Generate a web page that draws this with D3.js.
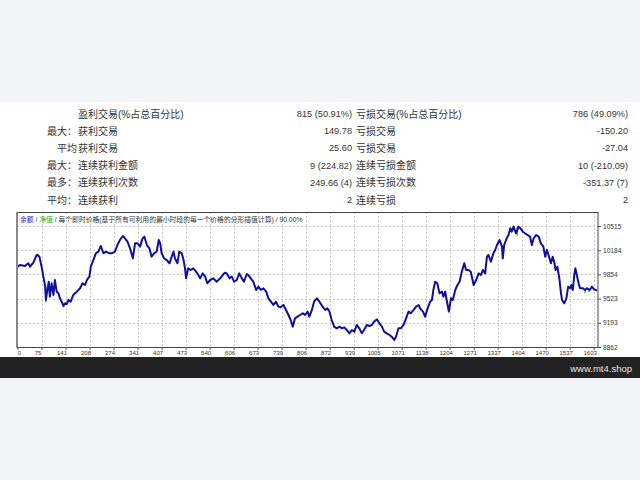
<!DOCTYPE html>
<html><head><meta charset="utf-8">
<script src="https://cdn.jsdelivr.net/npm/d3@7"></script>
<style>body{margin:0;background:#f3f4f6;}svg{display:block}</style>
</head><body><svg id="c" width="640" height="480"></svg>
<script>
// ---- data ----
const balanceIdx = [0,7,21,30,35,44,52,55,61,67,72,77,79,83,87,90,95,100,104,109,114,118,123,128,132,137,142,148,155,165,174,181,188,194,200,204,211,218,225,232,239,246,256,262,271,278,285,293,299,306,313,321,327,334,341,348,353,360,367,373,380,387,393,397,401,408,415,423,429,434,438,445,450,457,462,466,469,475,482,489,497,503,508,515,522,528,536,545,554,564,571,577,582,590,596,603,610,617,624,630,638,642,649,656,664,670,677,684,692,698,705,712,719,726,732,740,747,754,760,766,772,779,786,794,800,807,812,819,825,833,840,
849,856,862,868,874,881,888,896,902,909,916,924,930,937,944,951,958,964,972,979,986,992,1000,1007,1014,1020,1027,1035,1041,1048,1053,1060,1066,1074,1081,1088,1094,1102,1109,1116,1120,1128,1134,1141,1148,1153,1157,1162,1168,1174,1181,1185,1190,1194,1200,1206,1211,1218,1224,1230,1236,1243,1248,1255,1261,1269,1276,1283,1289,1295,1301,1306,1310,1317,1324,1329,1334,1341,1348,1350,1354,1361,1366,1371,1375,1380,1387,1394,1399,1406,1412,1419,1426,1431,1436,1443,1450,1456,1463,1468,1473,1480,1484,1489,1493,1497,1502,1508,1512,1515,1521,1527,1532,1538,1541,1545,1549,1552,1556,1561,1565,1573,1579,1584,1592,1598,1604,1612];
const balanceVal = [9959,9982,9968,10005,9959,10014,10105,10123,10096,9959,9823,9686,9504,9641,9754,9550,9732,9572,9777,9618,9595,9527,9481,9422,9459,9449,9504,9481,9572,9618,9664,9732,9709,9786,9823,9959,10050,10142,10164,10242,10142,10164,10142,10142,10164,10255,10324,10378,10346,10301,10210,10073,10278,10278,10233,10346,10369,10255,10210,10096,10142,10164,10324,10278,10142,10073,10050,10005,10096,10164,10073,10005,10164,10142,10050,9937,9800,9937,9914,9937,9891,9845,9800,9868,9823,9732,9777,9800,9754,9800,9845,9877,9868,9800,9823,9754,9777,9868,9800,9754,9859,9845,9800,9754,9641,9686,9641,9664,9618,9527,9481,9436,9481,9413,9404,9436,9368,9299,9231,9140,9254,9277,9299,9322,9299,9345,9277,9368,9481,9527,9481,
9413,9368,9390,9345,9231,9140,9117,9140,9117,9131,9094,9049,9094,9072,9163,9117,9049,9094,9163,9149,9163,9208,9240,9186,9140,9072,9049,9026,9003,8958,9003,9117,9117,9163,9254,9345,9322,9368,9413,9436,9390,9345,9277,9390,9481,9504,9641,9754,9732,9595,9618,9550,9618,9504,9345,9527,9504,9641,9709,9754,9891,10005,9914,9914,9891,9709,9777,9868,9845,9914,9868,10096,10119,10028,10142,10187,10255,10324,10233,10073,10255,10346,10392,10483,10437,10506,10415,10506,10483,10437,10415,10392,10369,10255,10346,10392,10369,10278,10233,10096,10187,10073,10005,10096,10028,9914,9959,9777,9595,9504,9459,9527,9686,9664,9709,9641,9845,9937,9845,9732,9664,9664,9641,9664,9641,9686,9650,9632];
// equity deviations: [index, equity value]
const equityIdx = [79,1390,1579,1590];
const equityVal = [9470,10380,9600,9612];

const xTickLabels = ["0","75","141","208","274","341","407","473","540","606","673","739","806","872","939","1005","1071","1138","1204","1271","1337","1404","1470","1537","1603"];
const yTickValues = [8862,9193,9523,9854,10184,10515];

const rowPrefix = ["","最大：","平均","最大：","最多：","平均："];
const winLabels = ["盈利交易(%占总百分比)","获利交易","获利交易","连续获利金额","连续获利次数","连续获利"];
const winValues = ["815 (50.91%)","149.78","25.60","9 (224.82)","249.66 (4)","2"];
const lossLabels = ["亏损交易(%占总百分比)","亏损交易","亏损交易","连续亏损金额","连续亏损次数","连续亏损"];
const lossValues = ["786 (49.09%)","-150.20","-27.04","10 (-210.09)","-351.37 (7)","2"];

// ---- drawing ----
const svg = d3.select("#c");
const FONT = "'Liberation Sans','Noto Sans CJK SC',sans-serif";
svg.append("rect").attr("x",0).attr("y",0).attr("width",640).attr("height",480).attr("fill","#f3f4f6");
svg.append("rect").attr("x",0).attr("y",102).attr("width",640).attr("height",256).attr("fill","#ffffff");
svg.append("rect").attr("x",0).attr("y",357).attr("width",640).attr("height",21).attr("fill","#222222");
svg.append("text").attr("x",632).attr("y",368).attr("text-anchor","end").attr("dominant-baseline","central")
  .attr("font-family",FONT).attr("font-size",9.5).attr("fill","#e6e6e6").text("www.mt4.shop");

// table
const rowY = i => 114 + i*17.2;
const tbl = svg.append("g").attr("font-family",FONT).attr("fill","#333");
rowPrefix.forEach((t,i)=>{
  tbl.append("text").attr("x",77).attr("y",rowY(i)).attr("text-anchor","end").attr("dominant-baseline","central").attr("font-size",10).text(t);
  tbl.append("text").attr("x",78).attr("y",rowY(i)).attr("dominant-baseline","central").attr("font-size",10).text(winLabels[i]);
  tbl.append("text").attr("x",352).attr("y",rowY(i)).attr("text-anchor","end").attr("dominant-baseline","central").attr("font-size",9.2).text(winValues[i]);
  tbl.append("text").attr("x",356).attr("y",rowY(i)).attr("dominant-baseline","central").attr("font-size",10).text(lossLabels[i]);
  tbl.append("text").attr("x",628).attr("y",rowY(i)).attr("text-anchor","end").attr("dominant-baseline","central").attr("font-size",9.2).text(lossValues[i]);
});

// chart
const L=17, R=598, T=212, B=347;
const x = d3.scaleLinear().domain([0,1615]).range([L+0.5,R]);
const y = d3.scaleLinear().domain([8862,10706]).range([B,T]);
const xTickPos = xTickLabels.map((d,k)=>k*1603/24);

const grid = svg.append("g").attr("stroke","#c8c8c8").attr("stroke-dasharray","2,2").attr("stroke-width",1);
xTickPos.slice(1).forEach(v=>grid.append("line").attr("x1",Math.round(x(v))+0.5).attr("x2",Math.round(x(v))+0.5).attr("y1",T).attr("y2",B));
yTickValues.slice(1).forEach(v=>grid.append("line").attr("y1",Math.round(y(v))+0.5).attr("y2",Math.round(y(v))+0.5).attr("x1",L).attr("x2",R));

// header
const hdr = svg.append("text").attr("x",20).attr("y",219).attr("dominant-baseline","central")
  .attr("font-family",FONT).attr("font-size",6.8).attr("fill","#333");
hdr.append("tspan").attr("fill","#2222cc").text("余额");
hdr.append("tspan").text(" / ");
hdr.append("tspan").attr("fill","#22aa22").text("净值");
hdr.append("tspan").text(" / 每个即时价格(基于所有可利用的最小时段的每一个价格的分形插值计算) / 90.00%");

// equity marks
const eq = svg.append("g").attr("stroke","#1fa81f").attr("stroke-width",1.2);
equityIdx.forEach((i,k)=>{
  const j = d3.bisectLeft(balanceIdx,i);
  const bv = balanceVal[Math.min(j,balanceVal.length-1)];
  eq.append("line").attr("x1",x(i)).attr("x2",x(i)).attr("y1",y(bv)).attr("y2",y(equityVal[k]));
});

// balance line
const pts = balanceIdx.map((d,i)=>[d,balanceVal[i]]);
svg.append("path").datum(pts).attr("fill","none").attr("stroke","#10109a").attr("stroke-width",2)
  .attr("stroke-linejoin","round")
  .attr("d",d3.line().x(d=>x(d[0])).y(d=>y(d[1])));

// frame
svg.append("rect").attr("x",L+0.5).attr("y",T+0.5).attr("width",R-L-0.5).attr("height",B-T)
  .attr("fill","none").attr("stroke","#444").attr("stroke-width",1);
svg.append("line").attr("x1",L).attr("x2",L).attr("y1",T).attr("y2",B+1).attr("stroke","#888").attr("stroke-width",2);

// axes
const xAxis = d3.axisBottom(x).tickValues(xTickPos).tickSize(3).tickPadding(1)
  .tickFormat((d,k)=>xTickLabels[k]);
const gx = svg.append("g").attr("transform",`translate(0,${B})`).call(xAxis);
gx.select(".domain").remove();
gx.selectAll("line").attr("stroke","#555");
gx.selectAll("text").attr("font-family",FONT).attr("font-size",6).attr("fill","#333")
  .attr("dx",(d,k)=>k===0?1.5:-4);

const yAxis = d3.axisRight(y).tickValues(yTickValues).tickSize(3).tickPadding(2).tickFormat(d3.format("d"));
const gy = svg.append("g").attr("transform",`translate(${R},0)`).call(yAxis);
gy.select(".domain").remove();
gy.selectAll("line").attr("stroke","#555");
gy.selectAll("text").attr("font-family",FONT).attr("font-size",6.6).attr("fill","#333");
</script></body></html>
